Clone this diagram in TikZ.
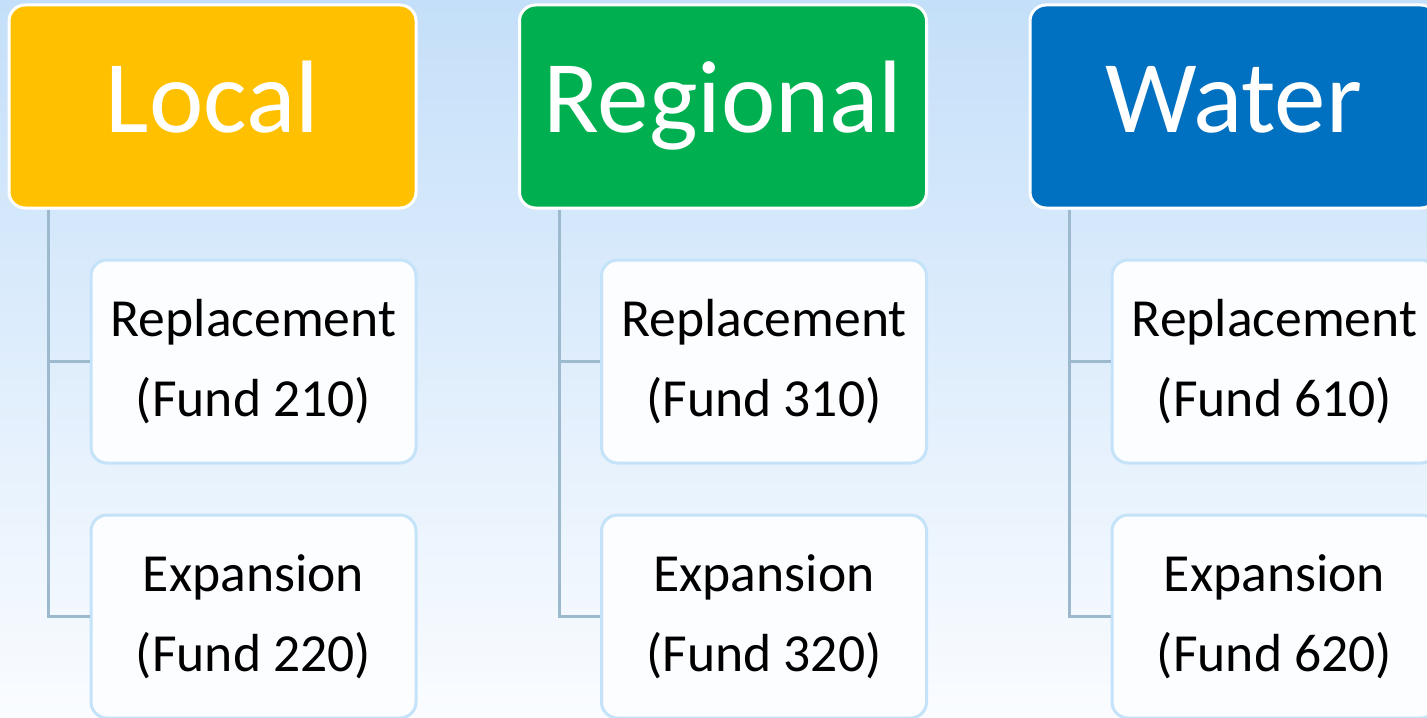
\documentclass[tikz,border=0pt]{standalone}
\usepackage{fontspec}
\setmainfont{Carlito}
\definecolor{bgtop}{RGB}{196,223,249}
\definecolor{bgbot}{RGB}{250,252,255}
\definecolor{hdrgold}{RGB}{255,192,0}
\definecolor{hdrgreen}{RGB}{0,176,80}
\definecolor{hdrblue}{RGB}{0,112,192}
\definecolor{boxline}{RGB}{197,227,248}
\definecolor{boxfill}{RGB}{251,253,255}
\definecolor{linkgray}{RGB}{157,185,206}

\begin{document}
\begin{tikzpicture}[x=0.5pt,y=-0.5pt,
  head/.style={draw=white,line width=1.5pt,rounded corners=8pt,
    minimum width=203.5pt,minimum height=101.5pt,text=white,
    font=\fontsize{51.5}{51.5}\selectfont,text height=26.5pt,text depth=0pt},
  fund/.style={draw=boxline,line width=1.5pt,fill=boxfill,rounded corners=8pt,
    minimum width=162.5pt,minimum height=101.5pt,align=center,
    font=\fontsize{26.8}{40}\selectfont},
  link/.style={draw=linkgray,line width=1.5pt}]
\useasboundingbox(0,0)rectangle(1427,717);
\clip(0,0)rectangle(1427,717);
\shade[top color=bgtop,bottom color=bgbot](0,0)rectangle(1427,717);
\foreach \n/\t/\c/\x/\a/\b in {L/Local/hdrgold/0/210/220,R/Regional/hdrgreen/510.5/310/320,W/Water/hdrblue/1021/610/620}{
  \node[head,fill=\c](hdr\n)at(212.5+\x,106.5){\t};
  \node[fund](rep\n)at(253.5+\x,361.5){Replacement\\(Fund \a)};
  \node[fund](exp\n)at(253.5+\x,616.5){Expansion\\(Fund \b)};
  \draw[link]([xshift=20.5pt]hdr\n.south west)|-(rep\n.west)
    ([xshift=20.5pt]hdr\n.south west)|-(exp\n.west);
}
\end{tikzpicture}
\end{document}
